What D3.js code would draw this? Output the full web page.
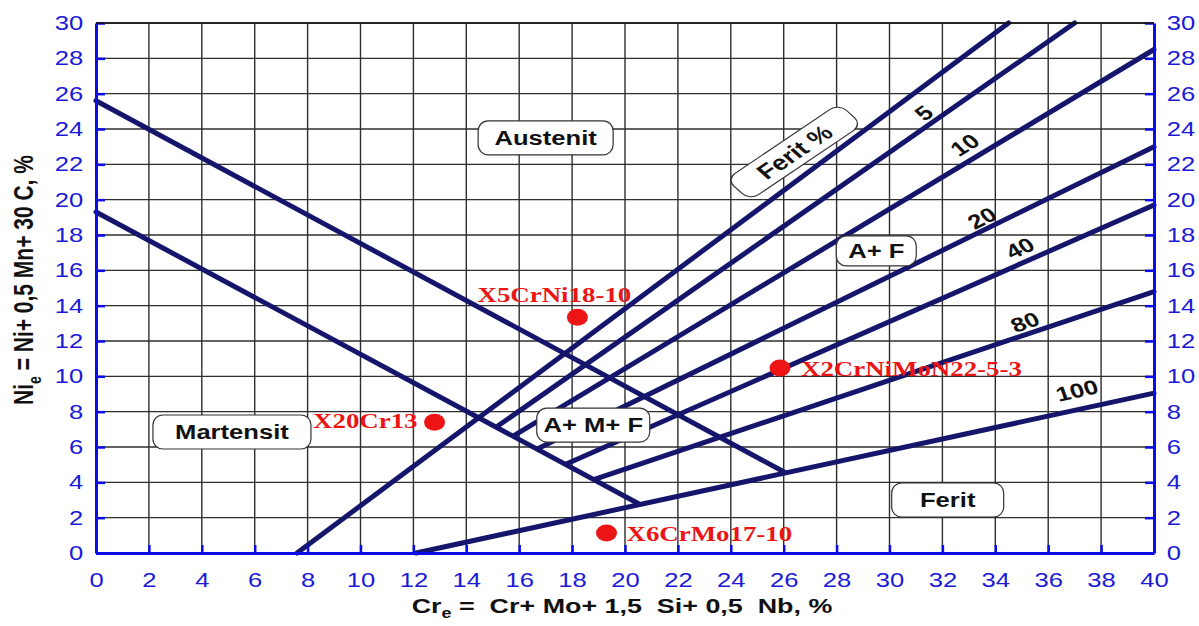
<!DOCTYPE html>
<html>
<head>
<meta charset="utf-8">
<script src="https://cdn.jsdelivr.net/npm/d3@7"></script>
<style>
body { margin: 0; background: #fff; }
svg { display: block; font-family: "Liberation Sans", Arial, sans-serif; }
text { white-space: pre; }
</style>
</head>
<body>
<svg id="chart" width="1199" height="626"></svg>
<script>
// axis ticks
const xTicks = d3.range(0, 41, 2);
const yTicks = d3.range(0, 31, 2);

// phase boundaries, points as [Cr_e, Ni_e]
const austenitBoundary = [[0, 25.6], [26, 4.6]];
const martensitBoundary = [[0, 19.3], [20.5, 2.8]];

// iso-ferrite lines
const ferritPercent = [0, 5, 10, 20, 40, 80, 100];
const ferritFrom = [[7.6, 0], [15.2, 7.2], [15.8, 6.65], [16.7, 5.9], [17.8, 5.05], [18.9, 4.2], [12.1, 0]];
const ferritTo = [[34.5, 30], [37.0, 30], [40, 28.5], [40, 23.0], [40, 19.7], [40, 14.8], [40, 9.05]];
const ferritLabelAt = [null, [31.3, 24.9], [32.85, 23.1], [33.5, 18.96], [34.93, 17.26], [35.12, 13.07], [37.09, 9.2]];

// steels
const steelNames = ["X5CrNi18-10", "X20Cr13", "X2CrNiMoN22-5-3", "X6CrMo17-10"];
const steelCr = [18.2, 12.8, 25.86, 19.3];
const steelNi = [13.35, 7.4, 10.47, 1.13];

// region labels
const regionNames = ["Austenit", "Martensit", "A+ M+ F", "A+ F", "Ferit"];
const regionCr = [17.0, 5.14, 18.8, 29.5, 32.2];
const regionNi = [23.5, 6.85, 7.24, 17.1, 3.0];
const ferritTitleAt = [26.4, 22.7];

// layout
const W = 1199, H = 626;
const margin = { top: 23, right: 45, bottom: 73, left: 96 };
const SX = 1.28; // the original is stretched horizontally
const lineColor = "#15156b";
const blue = "#0c0ce8";
const red = "#ec1414";

const boxWidth = { "Austenit": 135, "Martensit": 158, "A+ M+ F": 113, "A+ F": 80, "Ferit": 112 };
const steelOffset = {
    "X5CrNi18-10": { dx: -23, dy: -15, anchor: "middle" },
    "X20Cr13": { dx: -17, dy: 6, anchor: "end" },
    "X2CrNiMoN22-5-3": { dx: 21, dy: 8, anchor: "start" },
    "X6CrMo17-10": { dx: 20, dy: 8, anchor: "start" }
};

const svg = d3.select("#chart");
const x = d3.scaleLinear().domain([0, 40]).range([margin.left, W - margin.right]);
const y = d3.scaleLinear().domain([0, 30]).range([H - margin.bottom, margin.top]);

// rotate in "unstretched" space then stretch horizontally
function stretched(px, py, deg = 0) {
    const a = Math.atan(Math.tan(deg * Math.PI / 180) * SX) * 180 / Math.PI;
    return `translate(${px},${py}) scale(${SX},1) rotate(${-a})`;
}
function screenAngle(p0, p1) {
    return Math.atan2(y(p0[1]) - y(p1[1]), x(p1[0]) - x(p0[0])) * 180 / Math.PI;
}

// grid
const grid = svg.append("g").attr("stroke", "#2e2e2e").attr("stroke-width", 1.4);
grid.selectAll(".gx").data(xTicks.filter(d => d > 0 && d < 40)).join("line")
    .attr("x1", d => x(d)).attr("x2", d => x(d))
    .attr("y1", y(0)).attr("y2", y(30));
grid.selectAll(".gy").data(yTicks.filter(d => d > 0)).join("line")
    .attr("x1", x(0)).attr("x2", x(40))
    .attr("y1", d => y(d)).attr("y2", d => y(d));

// lines
const line = d3.line().x(d => x(d[0])).y(d => y(d[1]));
const lines = svg.append("g").attr("fill", "none").attr("stroke", lineColor)
    .attr("stroke-width", 5).attr("stroke-linecap", "round");
lines.append("path").attr("d", line(austenitBoundary));
lines.append("path").attr("d", line(martensitBoundary));
ferritPercent.forEach((p, i) => {
    lines.append("path").attr("d", line([ferritFrom[i], ferritTo[i]]));
});

// ferrite % labels
ferritPercent.forEach((p, i) => {
    if (!ferritLabelAt[i]) return;
    const ang = screenAngle(ferritFrom[i], ferritTo[i]);
    svg.append("text")
        .attr("transform", stretched(x(ferritLabelAt[i][0]), y(ferritLabelAt[i][1]), ang))
        .attr("text-anchor", "middle").attr("dy", "0.35em")
        .attr("font-size", 20).attr("font-weight", "bold").attr("fill", "#111")
        .text(p);
});

// axes
function styleAxis(g) {
    g.select(".domain").attr("stroke", blue).attr("stroke-width", 3);
    g.selectAll(".tick line").attr("stroke", blue).attr("stroke-width", 2.5);
    g.selectAll(".tick text").attr("fill", "#1a1ad8").attr("font-size", 20)
        .attr("font-family", "Liberation Sans, Arial, sans-serif")
        .attr("transform", `scale(${SX},1)`);
}
svg.append("g").attr("transform", `translate(0,${y(0)})`)
    .call(d3.axisBottom(x).tickValues(xTicks).tickSizeInner(-8).tickSizeOuter(0).tickPadding(20))
    .call(styleAxis);
svg.append("g").attr("transform", `translate(${x(0)},0)`)
    .call(d3.axisLeft(y).tickValues(yTicks).tickSizeInner(-9).tickSizeOuter(0).tickPadding(10))
    .call(styleAxis);
svg.append("g").attr("transform", `translate(${x(40)},0)`)
    .call(d3.axisRight(y).tickValues(yTicks).tickSizeInner(-9).tickSizeOuter(0).tickPadding(10))
    .call(styleAxis);
// top border
svg.append("line").attr("x1", x(0)).attr("x2", x(40)).attr("y1", y(30)).attr("y2", y(30))
    .attr("stroke", "#111").attr("stroke-width", 1.5);

// axis titles
const xt = svg.append("text")
    .attr("transform", stretched((x(0) + x(40)) / 2 - 3, 613))
    .attr("text-anchor", "middle").attr("font-size", 21).attr("font-weight", "bold").attr("fill", "#111");
xt.append("tspan").text("Cr");
xt.append("tspan").attr("font-size", 14).attr("dy", 5).text("e");
xt.append("tspan").attr("dy", -5).text(" =  Cr+ Mo+ 1,5  Si+ 0,5  Nb, %");

const yt = svg.append("text")
    .attr("transform", `translate(33,${(y(0) + y(30)) / 2 - 8}) scale(${SX},1) rotate(-90)`)
    .attr("text-anchor", "middle").attr("font-size", 21).attr("font-weight", "bold").attr("fill", "#111");
yt.append("tspan").text("Ni");
yt.append("tspan").attr("font-size", 14).attr("dy", 6).text("e");
yt.append("tspan").attr("dy", -6).text(" = Ni+ 0,5 Mn+ 30 C, %");

// region boxes
regionNames.forEach((name, i) => {
    const g = svg.append("g").attr("transform", `translate(${x(regionCr[i])},${y(regionNi[i])})`);
    const w = boxWidth[name], h = name === "A+ F" ? 30 : 34;
    g.append("rect").attr("x", -w / 2).attr("y", -h / 2).attr("width", w).attr("height", h)
        .attr("rx", 10).attr("fill", "#fff").attr("stroke", "#333").attr("stroke-width", 1.2);
    g.append("text").attr("transform", `scale(${SX},1)`)
        .attr("text-anchor", "middle").attr("dy", "0.36em")
        .attr("font-size", 20).attr("font-weight", "bold").attr("fill", "#111")
        .text(name);
});

// rotated "Ferit %" box
const fg = svg.append("g")
    .attr("transform", stretched(x(ferritTitleAt[0]), y(ferritTitleAt[1]), 34));
fg.append("rect").attr("x", -58).attr("y", -14).attr("width", 116).attr("height", 28)
    .attr("rx", 9).attr("fill", "#fff").attr("stroke", "#333").attr("stroke-width", 1);
fg.append("text").attr("text-anchor", "middle").attr("dy", "0.36em")
    .attr("font-size", 21).attr("font-weight", "bold").attr("fill", "#111")
    .text("Ferit %");

// steels
steelNames.forEach((name, i) => {
    const cx = x(steelCr[i]), cy = y(steelNi[i]);
    const o = steelOffset[name];
    svg.append("ellipse").attr("cx", cx).attr("cy", cy).attr("rx", 10.5).attr("ry", 8.5).attr("fill", red);
    svg.append("text").attr("transform", stretched(cx + o.dx, cy + o.dy))
        .attr("text-anchor", o.anchor)
        .attr("font-family", "Liberation Serif, Times New Roman, serif")
        .attr("font-size", 21).attr("font-weight", "bold").attr("fill", red)
        .text(name);
});
</script>
</body>
</html>
